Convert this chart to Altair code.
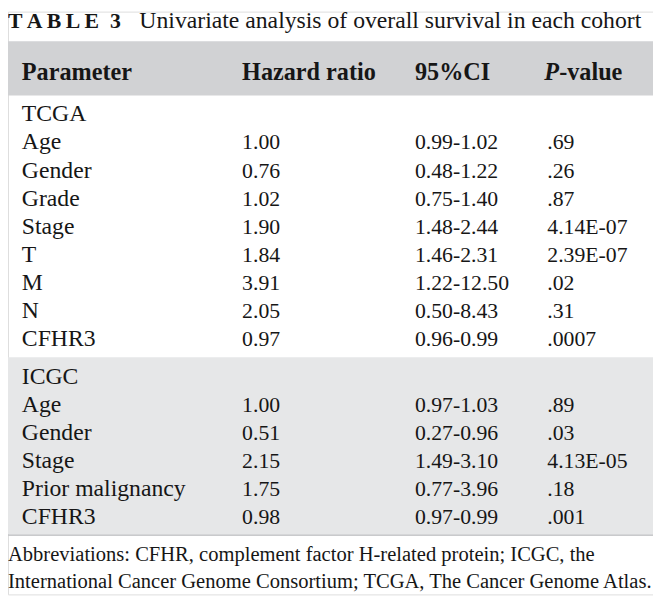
import altair as alt
import pandas as pd

# ---- table content ----
params = ["TCGA", "Age", "Gender", "Grade", "Stage", "T", "M", "N", "CFHR3",
          "ICGC", "Age", "Gender", "Stage", "Prior malignancy", "CFHR3"]
hazard = ["", "1.00", "0.76", "1.02", "1.90", "1.84", "3.91", "2.05", "0.97",
          "", "1.00", "0.51", "2.15", "1.75", "0.98"]
ci95 = ["", "0.99-1.02", "0.48-1.22", "0.75-1.40", "1.48-2.44", "1.46-2.31",
        "1.22-12.50", "0.50-8.43", "0.96-0.99",
        "", "0.97-1.03", "0.27-0.96", "1.49-3.10", "0.77-3.96", "0.97-0.99"]
pvals = ["", ".69", ".26", ".87", "4.14E-07", "2.39E-07", ".02", ".31", ".0007",
         "", ".89", ".03", "4.13E-05", ".18", ".001"]
cohort = ["TCGA"] * 9 + ["ICGC"] * 6

title_tag = "T\u2009A\u2009B\u2009L\u2009E\u20023"
title_text = "Univariate analysis of overall survival in each cohort"
headers = ["Parameter", "Hazard ratio", "95%CI"]
footer = ["Abbreviations: CFHR, complement factor H-related protein; ICGC, the",
          "International Cancer Genome Consortium; TCGA, The Cancer Genome Atlas."]

# ---- layout ----
W, H = 653, 590
FONT = "Liberation Serif"
INK = "#161616"
COLX = [14, 237, 412, 546]
GAP = 0.33  # extra slot gap before the second cohort
LABEL_SIZE = 24
NUM_SIZE = 22

rows = []
for i, p in enumerate(params):
    slot = i + (GAP if cohort[i] == "ICGC" else 0)
    rows.append({"param": p, "hr": hazard[i], "ci": ci95[i], "p": pvals[i], "slot": slot})
df = pd.DataFrame(rows)

yscale = alt.Scale(domain=[0, 14 + GAP], range=[104, 512], nice=False, zero=False)
one = pd.DataFrame({"k": [0]})

def band(y0, y1, color):
    return alt.Chart(one).mark_rect(color=color).encode(
        x=alt.value(0), x2=alt.value(W), y=alt.value(y0), y2=alt.value(y1))

def label(text, x, y, size=LABEL_SIZE, weight="normal", style="normal", baseline="middle"):
    return alt.Chart(one).mark_text(
        align="left", baseline=baseline, font=FONT, fontSize=size,
        fontWeight=weight, fontStyle=style, color=INK, text=text
    ).encode(x=alt.value(x), y=alt.value(y))

layers = [
    band(30, 85, "#d1d2d4"),
    band(350, 529, "#e6e7e8"),
    band(529, 531, "#c9cacc"),
    label(title_tag, 0, 17, size=22, weight="bold", baseline="alphabetic"),
    label(title_text, 133, 17, size=24, baseline="alphabetic"),
]
for h, x in zip(headers, COLX[:3]):
    layers.append(label(h, x, 62, size=24.5, weight="bold"))
layers.append(label("P", COLX[3] - 3, 62, size=24.5, weight="bold", style="italic"))
layers.append(label("-value", COLX[3] - 3 + 15, 62, size=24.5, weight="bold"))

for field, x, size in zip(["param", "hr", "ci", "p"], COLX,
                          [LABEL_SIZE, NUM_SIZE, NUM_SIZE, NUM_SIZE]):
    layers.append(
        alt.Chart(df).mark_text(align="left", baseline="middle", font=FONT,
                                fontSize=size, color=INK).encode(
            x=alt.value(x),
            y=alt.Y("slot:Q", scale=yscale, axis=None),
            text=f"{field}:N")
    )

layers.append(label(footer[0], 0, 550, size=20.8))
layers.append(label(footer[1], 0, 578, size=20.8))

chart = alt.layer(*layers).properties(
    width=W, height=H, autosize=alt.AutoSizeParams(type="none"), padding=0
).configure_view(stroke=None).configure(background="white")

chart.save("out.html", embed_options={"renderer": "svg", "actions": False})
